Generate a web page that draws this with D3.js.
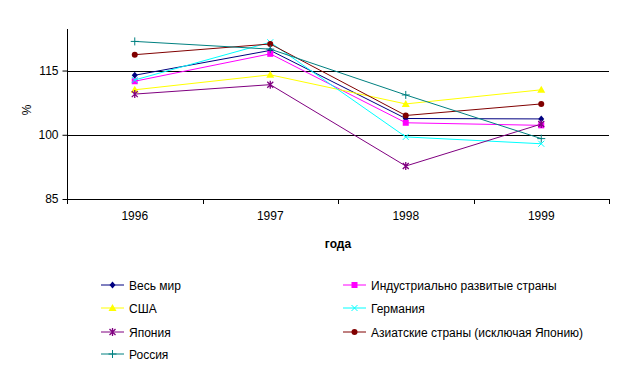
<!DOCTYPE html>
<html><head><meta charset="utf-8">
<script src="https://cdn.jsdelivr.net/npm/d3@7"></script>
<style>
body{margin:0;background:#fff;}
svg{display:block;font-family:"Liberation Sans",Arial,sans-serif;}
</style></head>
<body><svg id="c" width="623" height="375"></svg>
<script>
const years = ["1996","1997","1998","1999"];
const yTicks = [85,100,115];
const seriesNames = ["Весь мир","Индустриально развитые страны","США","Германия","Япония","Азиатские страны (исключая Японию)","Россия"];
const world      = [113.9,119.7,103.8,103.7];
const industrial = [112.5,118.9,102.8,102.2];
const usa        = [110.5,114.0,107.2,110.5];
const germany    = [112.8,121.6,99.5,97.9];
const japan      = [109.5,111.7,92.7,102.5];
const asia       = [118.7,121.2,104.5,107.2];
const russia     = [121.8,120.0,109.3,99.1];

const seriesValues = [world,industrial,usa,germany,japan,asia,russia];
const colors = ["#000080","#FF00FF","#FFFF00","#00FFFF","#800080","#800000","#008080"];
const markers = ["diamond","square","triangle","x","star","circle","plus"];

const svg = d3.select("#c");
const L=67, R=609, T=29, B=199;
const x = d3.scaleBand().domain(years).range([L,R]);
const y = d3.scaleLinear().domain([85,124.7]).range([B,T]);

// gridlines
svg.append("g").selectAll("line").data(yTicks.filter(d=>d>85)).join("line")
  .attr("x1",L).attr("x2",R).attr("y1",d=>Math.round(y(d))+0.5).attr("y2",d=>Math.round(y(d))+0.5)
  .attr("stroke","#000").attr("stroke-width",1);

// y axis
const ya = svg.append("g").attr("transform",`translate(${L+0.5},0)`)
  .call(d3.axisLeft(y).tickValues(yTicks).tickSize(5).tickPadding(4).tickFormat(d3.format("d")));
ya.select(".domain").attr("d",`M0,${T}V${B}`).attr("stroke","#000");
ya.selectAll("text").attr("font-size",12).attr("fill","#000").attr("font-family","Liberation Sans, Arial, sans-serif");

// x axis
const xa = svg.append("g").attr("transform",`translate(0,${B+0.5})`)
  .call(d3.axisBottom(x).tickSize(0).tickPadding(12));
xa.select(".domain").attr("d",`M${L},0H${R}`).attr("stroke","#000");
xa.selectAll("text").attr("font-size",12).attr("fill","#000").attr("font-family","Liberation Sans, Arial, sans-serif");
const bounds = years.map(d=>x(d)).concat([R]);
svg.append("g").selectAll("line").data(bounds).join("line")
  .attr("x1",d=>Math.round(d)+0.5).attr("x2",d=>Math.round(d)+0.5).attr("y1",B).attr("y2",B+5)
  .attr("stroke","#000");

// axis titles
svg.append("text").attr("x",(L+R)/2).attr("y",248).attr("text-anchor","middle")
  .attr("font-size",12).attr("font-weight","bold").text("года");
svg.append("text").attr("transform",`translate(31,${(T+B)/2-4}) rotate(-90)`).attr("text-anchor","middle")
  .attr("font-size",12).text("%");

function marker(g,type,cx,cy,color){
  const s=3;
  if(type==="diamond") g.append("path").attr("d",`M${cx},${cy-s-0.5}L${cx+s},${cy}L${cx},${cy+s+0.5}L${cx-s},${cy}Z`).attr("fill",color);
  else if(type==="square") g.append("rect").attr("x",cx-3).attr("y",cy-3).attr("width",6).attr("height",6).attr("fill",color);
  else if(type==="triangle") g.append("path").attr("d",`M${cx},${cy-4}L${cx+4},${cy+3}L${cx-4},${cy+3}Z`).attr("fill",color);
  else if(type==="circle") g.append("circle").attr("cx",cx).attr("cy",cy).attr("r",3).attr("fill",color);
  else if(type==="plus") g.append("path").attr("d",`M${cx-4},${cy}H${cx+4}M${cx},${cy-4}V${cy+4}`).attr("stroke",color).attr("stroke-width",1);
  else if(type==="x") g.append("path").attr("d",`M${cx-3},${cy-3}L${cx+3},${cy+3}M${cx+3},${cy-3}L${cx-3},${cy+3}`).attr("stroke",color).attr("stroke-width",1);
  else if(type==="star") g.append("path").attr("d",`M${cx-3},${cy-3}L${cx+3},${cy+3}M${cx+3},${cy-3}L${cx-3},${cy+3}M${cx},${cy-4}V${cy+4}`).attr("stroke",color).attr("stroke-width",1.3);
}

const line = d3.line().x((d,i)=>x(years[i])+x.bandwidth()/2).y(d=>y(d));
seriesValues.forEach((vals,si)=>{
  const g = svg.append("g");
  g.append("path").datum(vals).attr("d",line).attr("fill","none").attr("stroke",colors[si]).attr("stroke-width",1);
  vals.forEach((v,i)=>marker(g,markers[si],x(years[i])+x.bandwidth()/2,y(v),colors[si]));
});

// legend
const legPos = [[101,285],[343,285],[101,308],[343,308],[101,332],[343,332],[101,354]];
seriesNames.forEach((name,si)=>{
  const [lx,ly]=legPos[si];
  const g=svg.append("g");
  g.append("line").attr("x1",lx).attr("x2",lx+23).attr("y1",ly).attr("y2",ly).attr("stroke",colors[si]).attr("stroke-width",1);
  marker(g,markers[si],lx+11.5,ly,colors[si]);
  g.append("text").attr("x",lx+28).attr("y",ly+4.5).attr("font-size",12).attr("fill","#000").text(name);
});
</script></body></html>
